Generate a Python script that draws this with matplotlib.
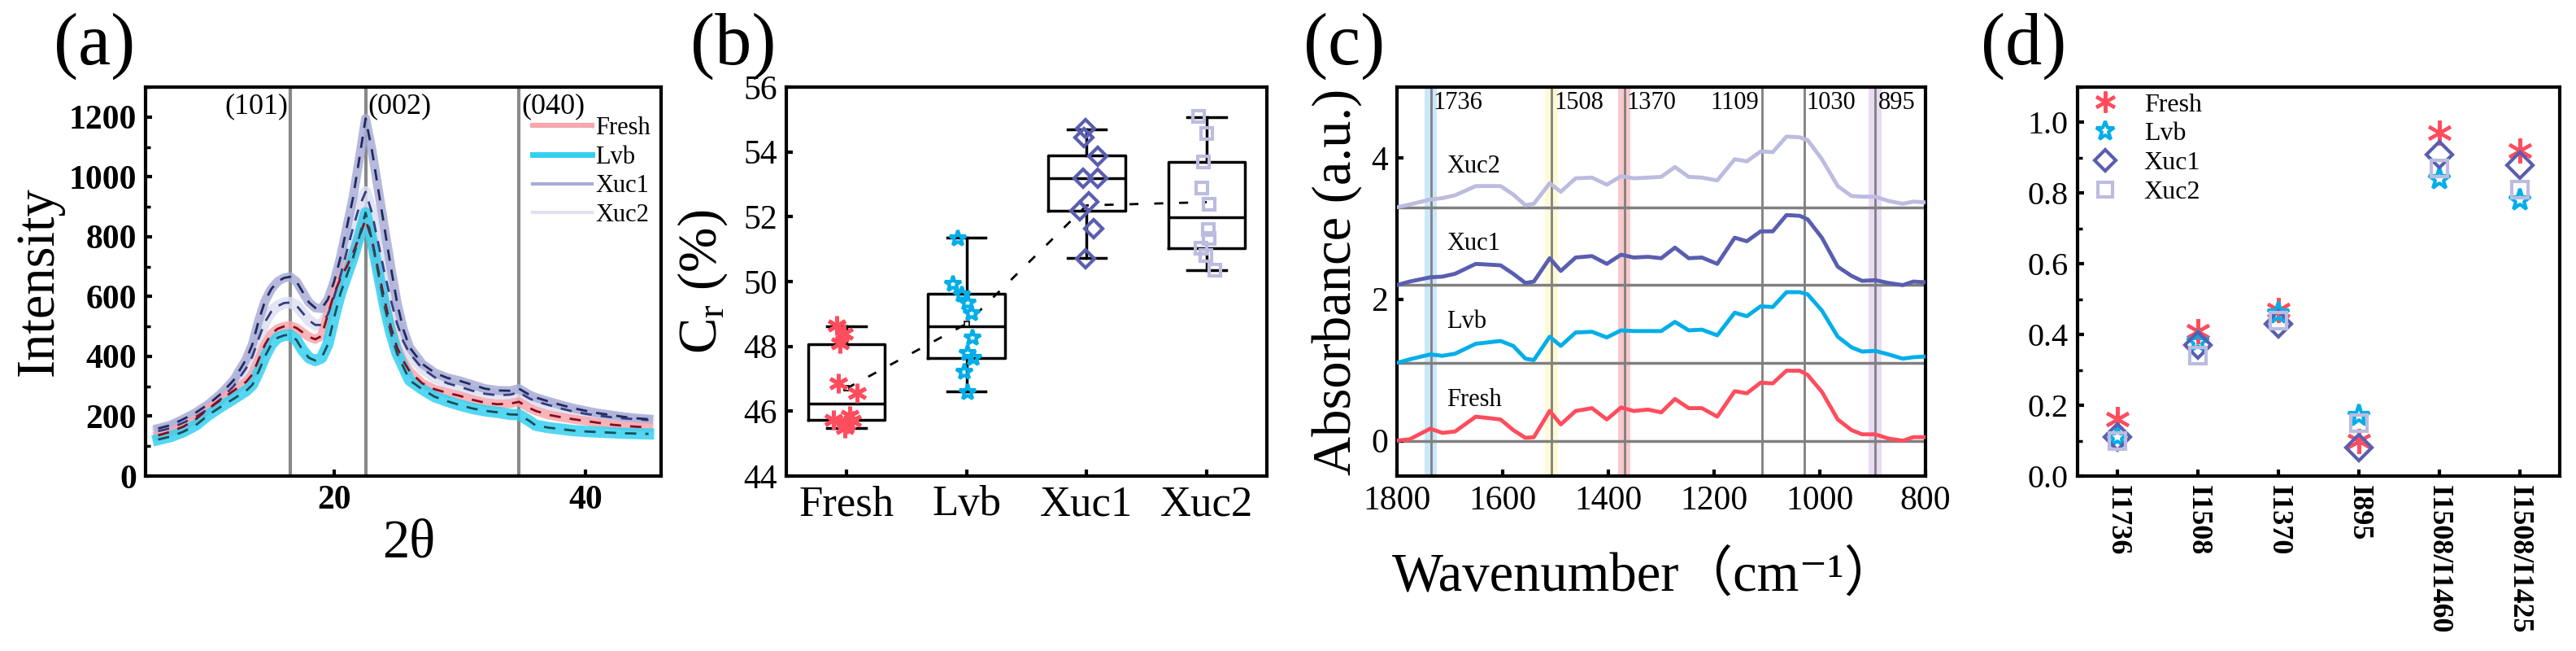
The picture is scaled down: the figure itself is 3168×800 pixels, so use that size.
import numpy as np
import matplotlib
matplotlib.use("Agg")
import matplotlib.pyplot as plt
from matplotlib.ticker import MultipleLocator
from matplotlib.lines import Line2D

plt.rcParams["font.family"] = ["Liberation Serif", "Noto Sans CJK SC", "DejaVu Serif"]
plt.rcParams["mathtext.fontset"] = "custom"
plt.rcParams["mathtext.rm"] = "Liberation Serif"
plt.rcParams["mathtext.it"] = "Liberation Serif:italic"

samples = ["Fresh", "Lvb", "Xuc1", "Xuc2"]

# ---- (a) XRD ----
two_theta = [6, 7, 8, 9, 10, 11, 12, 13, 13.5, 14, 14.5, 15, 15.5, 16, 16.5, 17, 17.5, 18, 18.5,
             19, 19.5, 20, 20.5, 21, 21.5, 22, 22.5, 23, 23.5, 24, 24.5, 25, 25.5, 26, 27, 28,
             29, 30, 31, 32, 33, 34, 34.7, 35.5, 36, 37, 38, 39, 40, 41, 42, 43, 44, 45]
xrd_fresh = [136, 148, 165, 190, 225, 255, 285, 315, 340, 390, 440, 475, 492, 500, 503, 495, 480, 465, 457,
             468, 540, 610, 660, 700, 745, 800, 858, 790, 690, 590, 500, 430, 385, 350, 310, 290,
             278, 268, 255, 245, 240, 242, 248, 228, 218, 205, 197, 190, 184, 178, 172, 168, 165, 163]
xrd_lvb = [122, 132, 148, 170, 204, 232, 258, 285, 305, 350, 400, 440, 462, 470, 472, 455, 420, 395, 386,
           395, 440, 530, 610, 670, 730, 800, 880, 790, 680, 570, 480, 410, 365, 320, 290, 265,
           250, 237, 226, 218, 213, 206, 205, 185, 170, 162, 157, 152, 149, 147, 145, 143, 142, 141]
xrd_xuc1 = [159, 170, 190, 212, 240, 275, 320, 390, 440, 520, 585, 625, 650, 662, 666, 650, 615, 580, 562,
            560, 590, 650, 730, 830, 930, 1060, 1195, 1090, 960, 830, 700, 580, 490, 430, 375, 345,
            328, 318, 305, 292, 286, 285, 292, 272, 263, 250, 238, 227, 218, 210, 204, 198, 193, 190]
xrd_xuc2 = [150, 160, 178, 198, 225, 258, 300, 360, 400, 460, 515, 550, 568, 578, 580, 570, 545, 520, 505,
            505, 540, 600, 670, 750, 830, 900, 950, 880, 780, 680, 590, 510, 450, 410, 360, 330,
            310, 298, 285, 275, 270, 272, 280, 260, 250, 238, 226, 216, 208, 202, 197, 193, 190, 187]
peak_pos = [16.5, 22.5, 34.7]
peak_labels = ["(101)", "(002)", "(040)"]

# ---- (b) crystallinity ----
cr_fresh = [48.65, 48.4, 48.1, 46.85, 46.55, 45.72, 45.85, 45.48, 45.7, 45.6]
cr_lvb = [51.34, 49.93, 49.59, 49.34, 49.01, 48.26, 47.8, 47.63, 47.22, 46.59]
cr_xuc1 = [54.73, 54.44, 53.87, 53.18, 53.2, 52.46, 52.19, 51.62, 50.7]
cr_xuc2 = [55.09, 54.56, 53.68, 52.88, 52.38, 51.6, 51.33, 51.04, 50.81, 50.34]
box_lo = [45.47, 46.61, 50.72, 50.35]
box_q1 = [45.73, 47.63, 52.19, 51.04]
box_med = [46.23, 48.63, 53.18, 51.98]
box_q3 = [48.07, 49.63, 53.89, 53.70]
box_hi = [48.63, 51.36, 54.69, 55.07]
cr_trend = [46.7, 48.7, 52.35, 52.45]

# ---- (c) FTIR ----
wavenumber = [1800, 1776, 1737, 1714, 1690, 1651, 1604, 1580, 1557, 1541, 1511, 1490, 1462, 1431,
              1403, 1376, 1352, 1325, 1300, 1274, 1248, 1223, 1194, 1161, 1138, 1112, 1089, 1063,
              1038, 1023, 996, 966, 940, 920, 895, 870, 843, 823, 802]
ftir_fresh = [0.0, 0.02, 0.17, 0.11, 0.13, 0.34, 0.30, 0.15, 0.04, 0.05, 0.42, 0.23, 0.42, 0.46,
              0.30, 0.47, 0.42, 0.44, 0.40, 0.59, 0.46, 0.46, 0.34, 0.70, 0.67, 0.82, 0.81, 0.99,
              0.99, 0.93, 0.69, 0.30, 0.15, 0.09, 0.09, 0.03, 0.0, 0.05, 0.05]
ftir_lvb = [0.0, 0.05, 0.12, 0.10, 0.13, 0.27, 0.31, 0.24, 0.06, 0.04, 0.37, 0.24, 0.43, 0.44,
            0.36, 0.46, 0.45, 0.45, 0.45, 0.58, 0.46, 0.47, 0.39, 0.71, 0.66, 0.80, 0.79, 1.0,
            1.0, 0.97, 0.74, 0.37, 0.22, 0.16, 0.17, 0.12, 0.06, 0.08, 0.09]
ftir_xuc1 = [0.0, 0.05, 0.11, 0.12, 0.16, 0.30, 0.28, 0.16, 0.03, 0.05, 0.38, 0.20, 0.39, 0.41,
             0.30, 0.43, 0.39, 0.40, 0.38, 0.53, 0.38, 0.39, 0.30, 0.67, 0.62, 0.76, 0.76, 0.99,
             0.98, 0.93, 0.67, 0.26, 0.13, 0.06, 0.07, 0.03, 0.0, 0.05, 0.04]
ftir_xuc2 = [0.0, 0.04, 0.11, 0.13, 0.17, 0.30, 0.30, 0.18, 0.03, 0.05, 0.34, 0.22, 0.41, 0.42,
             0.32, 0.44, 0.41, 0.42, 0.43, 0.57, 0.43, 0.42, 0.38, 0.68, 0.65, 0.79, 0.78, 1.0,
             0.99, 0.95, 0.68, 0.30, 0.16, 0.15, 0.15, 0.09, 0.05, 0.08, 0.07]
ftir_offsets = [0.0, 1.1, 2.2, 3.3]
mark_pos = [1736, 1508, 1370, 1109, 1030, 895]
band_pos = [1736, 1508, 1370, 895]

# ---- (d) intensity ratios ----
ratio_labels = ["I1736", "I1508", "I1370", "I895", "I1508/I1460", "I1508/I1425"]
ratio_fresh = [0.16, 0.41, 0.47, 0.10, 0.97, 0.92]
ratio_lvb = [0.11, 0.38, 0.46, 0.17, 0.84, 0.78]
ratio_xuc1 = [0.11, 0.37, 0.43, 0.08, 0.91, 0.88]
ratio_xuc2 = [0.10, 0.34, 0.44, 0.15, 0.87, 0.81]

# styles
pt_colors = ["#ff4d5e", "#00aee8", "#5a5eb0", "#bcbce0"]
band_colors = ["#f7a7ad", "#35d0f0", "#a9acd6", "#dfe0f2"]
dash_colors = ["#8c0a1c", "#1b4d5a", "#1f2a5e", "#353c80"]
band_fill = ["#a8daf5", "#fff6b8", "#f5a5ab", "#d9c3ea"]
markers = [(6, 2, 0), "*", "D", "s"]

fig = plt.figure(figsize=(31.68, 8), dpi=100)
H = 800.0
W = 3168.0


def make_ax(x0, x1, y0=107, y1=585):
    return fig.add_axes([x0 / W, 1 - y1 / H, (x1 - x0) / W, (y1 - y0) / H])


def style_ax(ax, size=30, bold=False):
    for s in ax.spines.values():
        s.set_linewidth(3)
    ax.tick_params(which="major", direction="in", length=6, width=3, labelsize=size, pad=8)
    ax.tick_params(which="minor", direction="in", length=4, width=2.5)
    for lab in ax.get_xticklabels() + ax.get_yticklabels():
        if bold:
            lab.set_fontweight("bold")


# (a)
ax = make_ax(179, 813)
series_a = [xrd_fresh, xrd_lvb, xrd_xuc1, xrd_xuc2]
lws = [8, 10, 8, 10]
for i in [3, 2, 0, 1]:
    ax.plot(two_theta, series_a[i], color=band_colors[i], lw=lws[i], alpha=0.85, solid_joinstyle="round")
for i in [3, 2, 0, 1]:
    ax.plot(two_theta, series_a[i], color=dash_colors[i], lw=2, ls=(0, (5, 4)))
for p, lab in zip(peak_pos, peak_labels):
    ax.axvline(p, color="#888888", lw=3, zorder=0)
    ax.text(p + (-0.15 if lab == "(101)" else 0.2), 1235, lab, ha="right" if lab == "(101)" else "left",
            va="center", fontsize=26)
ax.set_xlim(5, 46)
ax.set_ylim(0, 1300)
ax.xaxis.set_major_locator(MultipleLocator(20))
ax.yaxis.set_major_locator(MultipleLocator(200))
ax.yaxis.set_minor_locator(MultipleLocator(100))
style_ax(ax, 30, bold=True)
ax.set_ylabel("Intensity", fontsize=48)
ax.yaxis.set_label_coords(-0.158, 0.5)
ax.set_xlabel("2θ", fontsize=48)
ax.xaxis.set_label_coords(0.51, -0.11)
handles = [Line2D([], [], color=band_colors[i], lw=[4.5, 5, 3, 3][i]) for i in range(4)]
ax.legend(handles, samples, loc="upper left", bbox_to_anchor=(0.75, 0.925), frameon=False,
          fontsize=22, handlelength=2.4, handletextpad=0.15, labelspacing=0.22, borderpad=0,
          borderaxespad=0)

# (b)
ax = make_ax(967, 1558)
stats = []
for i in range(4):
    stats.append(dict(med=box_med[i], q1=box_q1[i], q3=box_q3[i], whislo=box_lo[i],
                      whishi=box_hi[i], mean=cr_trend[i], fliers=[]))
pos = [1, 2, 3, 4]
ax.bxp(stats, positions=pos, widths=0.64, capwidths=0.32, showmeans=False,
       boxprops=dict(lw=2.5, color="black"), medianprops=dict(lw=2.5, color="black"),
       whiskerprops=dict(lw=2.5, color="black"), capprops=dict(lw=2.5, color="black"))
ax.plot(pos, cr_trend, color="black", lw=2, ls=(0, (4, 7)), zorder=3)
ax.plot(pos[:2], cr_trend[:2], ls="none", marker="s", ms=5, mfc="white", mec="black", mew=1.2, zorder=4)
jitters = [[-0.08, -0.02, -0.05, -0.07, 0.09, -0.11, 0.03, -0.01, 0.05, 0.0],
           [-0.07, -0.11, -0.04, 0.01, 0.04, 0.05, 0.01, 0.06, -0.02, 0.01],
           [-0.01, -0.02, 0.09, -0.03, 0.09, 0.02, -0.06, 0.06, -0.01],
           [-0.07, 0.0, -0.03, -0.04, 0.02, 0.01, 0.02, -0.05, -0.01, 0.07]]
groups = [cr_fresh, cr_lvb, cr_xuc1, cr_xuc2]
msz = [17, 15, 11, 10]
for i, g in enumerate(groups):
    xs = [pos[i] + j for j in jitters[i][:len(g)]]
    if i == 0:
        ax.plot(xs, g, ls="none", marker=markers[i], ms=msz[i], mec=pt_colors[i], mew=3.5, zorder=5)
    else:
        ax.plot(xs, g, ls="none", marker=markers[i], ms=msz[i], mfc="none", mec=pt_colors[i], mew=3, zorder=5)
ax.set_xlim(0.5, 4.5)
ax.set_ylim(44, 56)
ax.set_xticks(pos)
ax.set_xticklabels(samples)
ax.yaxis.set_major_locator(MultipleLocator(2))
style_ax(ax, 30)
ax.tick_params(axis="x", labelsize=38)
ax.set_ylabel("C$_\\mathrm{r}$ (%)", fontsize=48)
ax.yaxis.set_label_coords(-0.118, 0.5)

# (c)
ax = make_ax(1718, 2368)
for wv, c in zip(band_pos, band_fill):
    ax.axvspan(wv - 12, wv + 12, color=c, alpha=0.6, lw=0, zorder=0)
for wv in mark_pos:
    ax.axvline(wv, color="#808080", lw=2, zorder=1)
for off in ftir_offsets:
    ax.axhline(off, color="#808080", lw=2.5, zorder=1)
spectra = [ftir_fresh, ftir_lvb, ftir_xuc1, ftir_xuc2]
for i in range(4):
    y = np.array(spectra[i]) + ftir_offsets[i]
    ax.plot(wavenumber, y, color=pt_colors[i], lw=3.5, zorder=3)
    ax.text(1706, ftir_offsets[i] + 0.58, samples[i], fontsize=22, ha="left", va="center")
for wv in mark_pos:
    if wv == 1109:
        ax.text(wv + 6, 4.78, str(wv), fontsize=22, ha="right", va="center")
    else:
        ax.text(wv - 5, 4.78, str(wv), fontsize=22, ha="left", va="center")
ax.set_xlim(1800, 800)
ax.set_ylim(-0.5, 5)
ax.xaxis.set_major_locator(MultipleLocator(200))
ax.set_yticks([0, 2, 4])
style_ax(ax, 30)
ax.set_ylabel("Absorbance (a.u.)", fontsize=48)
ax.yaxis.set_label_coords(-0.066, 0.5)
ax.set_xlabel("Wavenumber（cm⁻¹）", fontsize=48)
ax.xaxis.set_label_coords(0.47, -0.19)

# (d)
ax = make_ax(2555, 3148)
ratios = [ratio_fresh, ratio_lvb, ratio_xuc1, ratio_xuc2]
xd = np.arange(len(ratio_labels))
dsz = [22, 20, 16, 15]
order = [1, 0, 2, 3]
for i in order:
    ax.plot(xd, ratios[i], ls="none", marker=markers[i], ms=dsz[i], mfc="none",
            mec=pt_colors[i], mew=3, label=samples[i], zorder=3 + i)
h, l = ax.get_legend_handles_labels()
idx = [l.index(s) for s in samples]
ax.legend([h[k] for k in idx], samples, loc="upper left", bbox_to_anchor=(0.03, 0.985), frameon=False,
          fontsize=23, handlelength=1.0, handletextpad=1.0, labelspacing=0.2, markerscale=0.85,
          borderpad=0, borderaxespad=0)
ax.set_xlim(-0.5, len(ratio_labels) - 0.5)
ax.set_ylim(0, 1.1)
ax.set_xticks(xd)
ax.set_xticklabels(ratio_labels, rotation=-90, fontweight="bold", fontsize=26, va="top")
ax.yaxis.set_major_locator(MultipleLocator(0.2))
ax.yaxis.set_minor_locator(MultipleLocator(0.1))
ax.yaxis.set_major_formatter(matplotlib.ticker.FormatStrFormatter("%.1f"))
style_ax(ax, 29)
ax.tick_params(axis="x", labelsize=26)

# panel labels
for lab, px in zip(["(a)", "(b)", "(c)", "(d)"], [66, 849, 1603, 2436]):
    fig.text(px / W, 1 - 57 / H, lab, fontsize=65, ha="left", va="center")

fig.savefig("out.png", dpi=100)
